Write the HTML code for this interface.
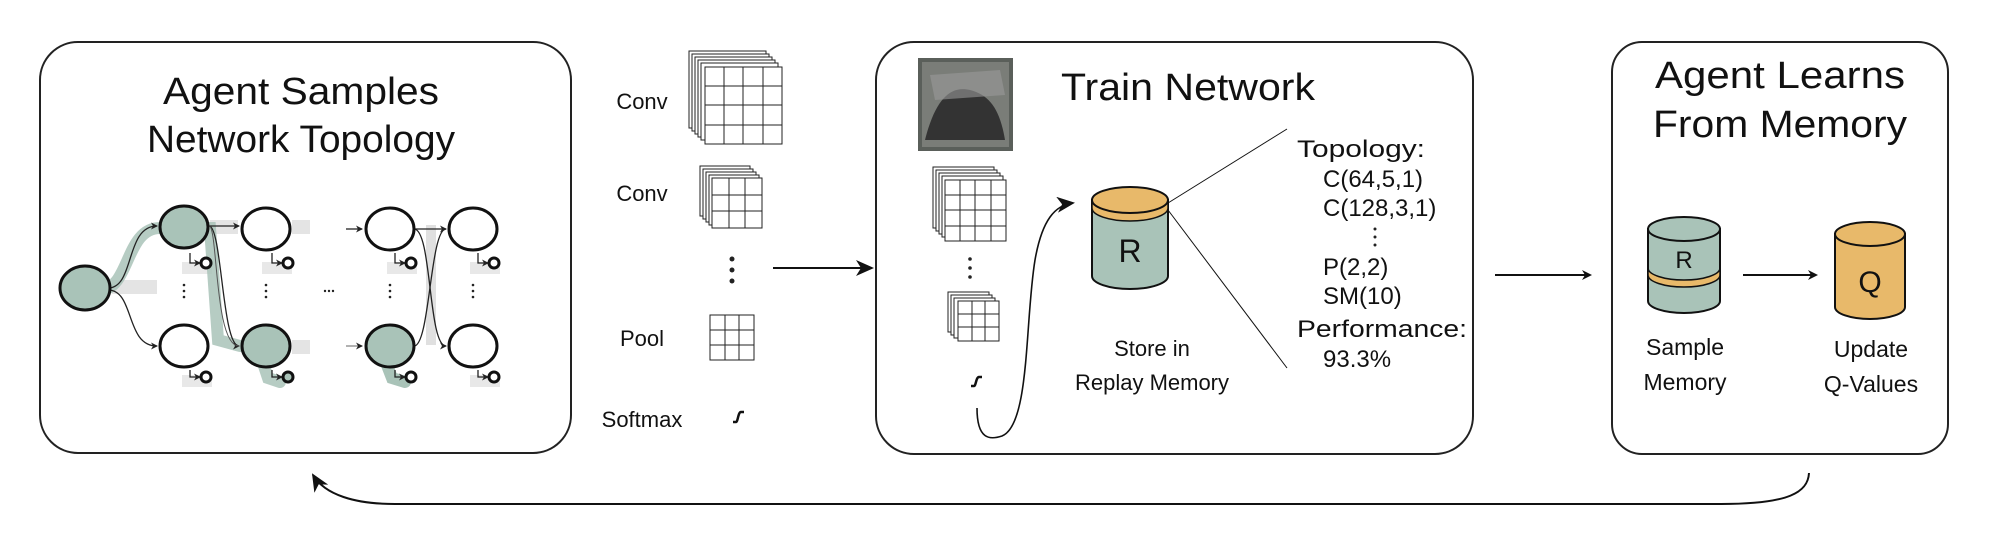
<!DOCTYPE html>
<html><head><meta charset="utf-8"><style>
html,body{margin:0;padding:0;background:#fff;}
svg{display:block;}
text{font-family:"Liberation Sans",sans-serif;fill:#111;}
</style></head><body>
<svg width="1999" height="537" viewBox="0 0 1999 537" xmlns="http://www.w3.org/2000/svg">
<defs>
<marker id="ah" markerWidth="10" markerHeight="10" refX="8" refY="5" orient="auto" markerUnits="userSpaceOnUse"><path d="M0,0 L10,5 L0,10 L3,5 z" fill="#111"/></marker>
<marker id="as" markerWidth="7" markerHeight="7" refX="6" refY="3.5" orient="auto" markerUnits="userSpaceOnUse"><path d="M0,0 L7,3.5 L0,7 L2,3.5 z" fill="#222"/></marker>
<marker id="big" markerWidth="18" markerHeight="16" refX="16" refY="8" orient="auto" markerUnits="userSpaceOnUse"><path d="M0,0 L18,8 L0,16 L5,8 z" fill="#111"/></marker>
</defs>

<!-- boxes -->
<rect x="40" y="42" width="531" height="411" rx="38" fill="none" stroke="#222" stroke-width="2"/>
<rect x="876" y="42" width="597" height="412" rx="38" fill="none" stroke="#222" stroke-width="2"/>
<rect x="1612" y="42" width="336" height="412" rx="30" fill="none" stroke="#222" stroke-width="2"/>

<!-- left titles -->
<text x="301" y="104" font-size="38" text-anchor="middle" textLength="276" lengthAdjust="spacingAndGlyphs">Agent Samples</text>
<text x="301" y="152" font-size="38" text-anchor="middle" textLength="308" lengthAdjust="spacingAndGlyphs">Network Topology</text>

<!-- topology graph -->
<g>
<rect x="112" y="280" width="45" height="14" fill="#e4e4e4"/>
<rect x="210" y="220" width="28" height="14" fill="#e4e4e4"/>
<rect x="292" y="220" width="18" height="14" fill="#e4e4e4"/>
<rect x="292" y="340" width="18" height="14" fill="#e4e4e4"/>
<rect x="182" y="262" width="30" height="12" fill="#e8e8e8"/>
<rect x="262" y="262" width="30" height="12" fill="#e8e8e8"/>
<rect x="387" y="262" width="30" height="12" fill="#e8e8e8"/>
<rect x="470" y="262" width="30" height="12" fill="#e8e8e8"/>
<rect x="182" y="375" width="30" height="12" fill="#e8e8e8"/>
<rect x="470" y="375" width="30" height="12" fill="#e8e8e8"/>
<rect x="426" y="225" width="10" height="120" fill="#e0e0e0"/>
<path d="M100,290 C130,290 125,228 160,228 L210,228 L218,340 L240,346 M262,360 L268,378 L280,382" fill="none" stroke="#a9c3b8" stroke-width="12" stroke-linecap="round" opacity="0.85"/>
<path d="M385,360 L392,378 L405,382" fill="none" stroke="#a9c3b8" stroke-width="12" stroke-linecap="round"/>
<path d="M108,288 C135,288 125,226 157,226" fill="none" stroke="#222" stroke-width="1.3" marker-end="url(#as)"/>
<path d="M108,290 C135,290 125,346 157,346" fill="none" stroke="#222" stroke-width="1.3" marker-end="url(#as)"/>
<path d="M209,226 L239,226" stroke="#222" stroke-width="1.3" marker-end="url(#as)"/>
<path d="M209,226 C222,226 222,346 239,346" fill="none" stroke="#222" stroke-width="1.3" marker-end="url(#as)"/>
<path d="M209,226 C218,226 214,346 239,346" fill="none" stroke="#555" stroke-width="1"/>
<path d="M346,229 L362,229" stroke="#222" stroke-width="1.3" marker-end="url(#as)"/>
<path d="M346,346 L362,346" stroke="#888" stroke-width="1.3" marker-end="url(#as)"/>
<path d="M414,229 L446,229" stroke="#222" stroke-width="1.3" marker-end="url(#as)"/>
<path d="M414,346 C430,346 430,229 446,229" fill="none" stroke="#222" stroke-width="1.3"/>
<path d="M414,229 C432,229 428,346 446,346" fill="none" stroke="#222" stroke-width="1.3" marker-end="url(#as)"/>
<g stroke="#222" stroke-width="1.3" fill="none">
<path d="M190,253 L190,263 L200,263" marker-end="url(#as)"/>
<path d="M272,253 L272,263 L282,263" marker-end="url(#as)"/>
<path d="M395,253 L395,263 L405,263" marker-end="url(#as)"/>
<path d="M478,253 L478,263 L488,263" marker-end="url(#as)"/>
<path d="M190,370 L190,377 L200,377" marker-end="url(#as)"/>
<path d="M272,370 L272,377 L282,377" marker-end="url(#as)"/>
<path d="M395,370 L395,377 L405,377" marker-end="url(#as)"/>
<path d="M478,370 L478,377 L488,377" marker-end="url(#as)"/>
</g>
<g stroke="#111" stroke-width="3" fill="#fff">
<circle cx="206" cy="263" r="5"/><circle cx="288" cy="263" r="5"/><circle cx="411" cy="263" r="5"/><circle cx="494" cy="263" r="5"/>
<circle cx="206" cy="377" r="5"/><circle cx="411" cy="377" r="5" /><circle cx="494" cy="377" r="5"/>
<circle cx="288" cy="377" r="5" fill="#a9c3b8"/>
</g>
<g stroke="#111" stroke-width="3">
<ellipse cx="85" cy="288" rx="25" ry="22" fill="#a9c3b8"/>
<ellipse cx="184" cy="227" rx="24" ry="21" fill="#a9c3b8"/>
<ellipse cx="266" cy="229" rx="24" ry="21" fill="#fff"/>
<ellipse cx="390" cy="229" rx="24" ry="21" fill="#fff"/>
<ellipse cx="473" cy="229" rx="24" ry="21" fill="#fff"/>
<ellipse cx="184" cy="346" rx="24" ry="21" fill="#fff"/>
<ellipse cx="266" cy="346" rx="24" ry="21" fill="#a9c3b8"/>
<ellipse cx="390" cy="346" rx="24" ry="21" fill="#a9c3b8"/>
<ellipse cx="473" cy="346" rx="24" ry="21" fill="#fff"/>
</g>
<g fill="#222">
<circle cx="184" cy="285" r="1.3"/><circle cx="184" cy="291" r="1.3"/><circle cx="184" cy="297" r="1.3"/>
<circle cx="266" cy="285" r="1.3"/><circle cx="266" cy="291" r="1.3"/><circle cx="266" cy="297" r="1.3"/>
<circle cx="390" cy="285" r="1.3"/><circle cx="390" cy="291" r="1.3"/><circle cx="390" cy="297" r="1.3"/>
<circle cx="473" cy="285" r="1.3"/><circle cx="473" cy="291" r="1.3"/><circle cx="473" cy="297" r="1.3"/>
<circle cx="325" cy="291" r="1.2"/><circle cx="329" cy="291" r="1.2"/><circle cx="333" cy="291" r="1.2"/>
</g>
</g>

<!-- layer legend -->
<g font-size="22">
<text x="642" y="109" text-anchor="middle">Conv</text>
<text x="642" y="201" text-anchor="middle">Conv</text>
<text x="642" y="346" text-anchor="middle">Pool</text>
<text x="642" y="427" text-anchor="middle">Softmax</text>
</g>
<g stroke="#222" stroke-width="1" fill="#fff">
<rect x="689" y="51" width="77" height="77"/><rect x="692" y="54" width="77" height="77"/><rect x="695" y="57" width="77" height="77"/><rect x="698" y="60" width="77" height="77"/><rect x="701" y="63" width="77" height="77"/>
<rect x="705" y="67" width="77" height="77"/>
<path d="M724,67V144M743,67V144M763,67V144M705,86H782M705,105H782M705,125H782"/>
<rect x="700" y="166" width="50" height="50"/><rect x="703" y="169" width="50" height="50"/><rect x="706" y="172" width="50" height="50"/><rect x="709" y="175" width="50" height="50"/>
<rect x="712" y="178" width="50" height="50"/>
<path d="M729,178V228M745,178V228M712,195H762M712,211H762"/>
<rect x="710" y="315" width="44" height="45"/>
<path d="M725,315V360M739,315V360M710,330H754M710,345H754"/>
<rect x="933" y="167" width="61" height="61"/><rect x="936" y="170" width="61" height="61"/><rect x="939" y="173" width="61" height="61"/><rect x="942" y="176" width="61" height="61"/>
<rect x="945" y="180" width="61" height="61"/>
<path d="M960,180V241M975,180V241M991,180V241M945,195H1006M945,210H1006M945,226H1006"/>
<rect x="948" y="292" width="41" height="40"/><rect x="951" y="295" width="41" height="40"/><rect x="954" y="298" width="41" height="40"/>
<rect x="958" y="301" width="41" height="40"/>
<path d="M972,301V341M985,301V341M958,314H999M958,327H999"/>
</g>
<g fill="#222">
<circle cx="732" cy="259" r="2.5"/><circle cx="732" cy="270" r="2.5"/><circle cx="732" cy="281" r="2.5"/>
<circle cx="970" cy="259" r="1.8"/><circle cx="970" cy="268" r="1.8"/><circle cx="970" cy="277" r="1.8"/>
</g>
<path d="M733,422 L736,422 C738,422 738,412 741,412 L744,412" fill="none" stroke="#111" stroke-width="2.5"/>
<path d="M971,386 L974,386 C976,386 976,377 979,377 L982,377" fill="none" stroke="#111" stroke-width="2.5"/>

<line x1="773" y1="268" x2="872" y2="268" stroke="#111" stroke-width="2" marker-end="url(#big)"/>

<!-- image -->
<rect x="918" y="58" width="95" height="93" fill="#5a5f5a"/>
<rect x="922" y="62" width="87" height="85" fill="#7a7d78"/>
<path d="M925,140 C935,100 950,85 970,90 C990,95 1000,110 1005,140 Z" fill="#333"/>
<path d="M930,75 L1000,70 L1005,95 L935,100 Z" fill="#999" opacity="0.6"/>

<text x="1061" y="100" font-size="38" textLength="254" lengthAdjust="spacingAndGlyphs">Train Network</text>

<path d="M977,408 C977,440 990,440 1002,436 C1030,425 1025,320 1035,260 C1042,220 1055,205 1073,203" fill="none" stroke="#111" stroke-width="1.6" marker-end="url(#big)"/>

<path d="M1092,200 L1092,276 A38,13 0 0 0 1168,276 L1168,200 Z" fill="#a9c3b8" stroke="#111" stroke-width="2"/>
<path d="M1092,200 L1092,208 A38,13 0 0 0 1168,208 L1168,200 Z" fill="#e8b96a" stroke="#111" stroke-width="1.5"/>
<ellipse cx="1130" cy="200" rx="38" ry="13" fill="#e8b96a" stroke="#111" stroke-width="2"/>
<text x="1130" y="262" font-size="32" text-anchor="middle">R</text>
<line x1="1168" y1="203" x2="1287" y2="129" stroke="#111" stroke-width="1"/>
<line x1="1168" y1="210" x2="1287" y2="368" stroke="#111" stroke-width="1"/>
<text x="1152" y="356" font-size="22" text-anchor="middle">Store in</text>
<text x="1152" y="390" font-size="22" text-anchor="middle">Replay Memory</text>

<g font-size="24">
<text x="1297" y="157" textLength="128" lengthAdjust="spacingAndGlyphs">Topology:</text>
<text x="1323" y="187">C(64,5,1)</text>
<text x="1323" y="216">C(128,3,1)</text>
<text x="1323" y="275">P(2,2)</text>
<text x="1323" y="304">SM(10)</text>
<text x="1297" y="337" textLength="170" lengthAdjust="spacingAndGlyphs">Performance:</text>
<text x="1323" y="367">93.3%</text>
</g>
<g fill="#222"><circle cx="1375" cy="229" r="1.5"/><circle cx="1375" cy="237" r="1.5"/><circle cx="1375" cy="245" r="1.5"/></g>

<line x1="1495" y1="275" x2="1590" y2="275" stroke="#111" stroke-width="2" marker-end="url(#ah)"/>

<text x="1780" y="88" font-size="38" text-anchor="middle" textLength="250" lengthAdjust="spacingAndGlyphs">Agent Learns</text>
<text x="1780" y="137" font-size="38" text-anchor="middle" textLength="254" lengthAdjust="spacingAndGlyphs">From Memory</text>

<path d="M1648,229 L1648,301 A36,12 0 0 0 1720,301 L1720,229 Z" fill="#a9c3b8" stroke="#111" stroke-width="2"/>
<path d="M1648,268 A36,12 0 0 0 1720,268 L1720,275 A36,12 0 0 1 1648,275 Z" fill="#e8b96a" stroke="#111" stroke-width="1.5"/>
<ellipse cx="1684" cy="229" rx="36" ry="12" fill="#a9c3b8" stroke="#111" stroke-width="2"/>
<text x="1684" y="268" font-size="24" text-anchor="middle">R</text>

<line x1="1743" y1="275" x2="1816" y2="275" stroke="#111" stroke-width="2" marker-end="url(#ah)"/>

<path d="M1835,234 L1835,307 A35,12 0 0 0 1905,307 L1905,234 Z" fill="#e8b96a" stroke="#111" stroke-width="2"/>
<ellipse cx="1870" cy="234" rx="35" ry="12" fill="#e8b96a" stroke="#111" stroke-width="2"/>
<text x="1870" y="292" font-size="30" text-anchor="middle">Q</text>

<text x="1685" y="355" font-size="23" text-anchor="middle">Sample</text>
<text x="1685" y="390" font-size="23" text-anchor="middle">Memory</text>
<text x="1871" y="357" font-size="23" text-anchor="middle">Update</text>
<text x="1871" y="392" font-size="23" text-anchor="middle">Q-Values</text>

<path d="M1809,473 C1808,492 1790,504 1721,504 L395,504 C355,504 325,495 313,475" fill="none" stroke="#111" stroke-width="2" marker-end="url(#big)"/>
</svg>
</body></html>
